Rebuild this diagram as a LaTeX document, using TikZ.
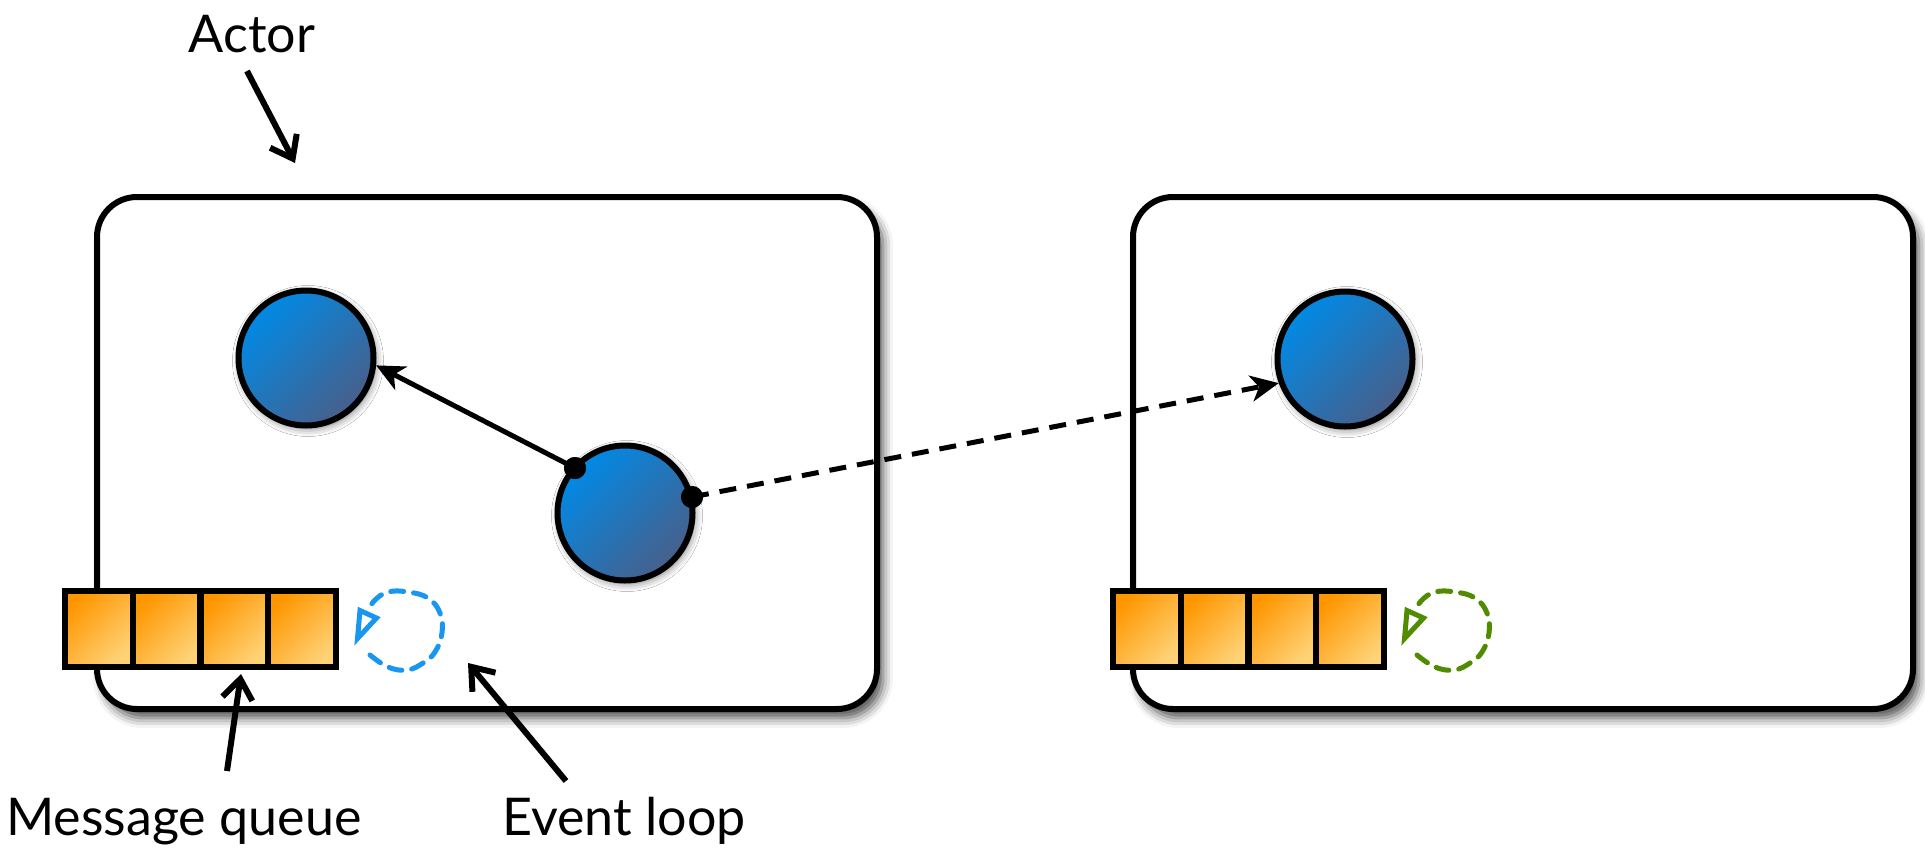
\documentclass[tikz,border=0pt]{standalone}
\usepackage{fontspec}
\setmainfont{Lato}
\usetikzlibrary{arrows.meta,shadows.blur}
\definecolor{ballA}{RGB}{0,138,230}
\definecolor{ballB}{RGB}{72,95,138}
\definecolor{qA}{RGB}{255,150,0}
\definecolor{qB}{RGB}{255,210,118}
\definecolor{loopblue}{RGB}{25,150,240}
\definecolor{loopgreen}{RGB}{80,140,0}
\begin{document}
\begin{tikzpicture}[x=1pt,y=-1pt,
  myshadow/.style={blur shadow={shadow xshift=6pt,shadow yshift=-9pt,shadow blur radius=10pt,shadow opacity=70}},
  actorbox/.style={draw=black,line width=6pt,rounded corners=40pt,fill=white,
    minimum width=780pt,minimum height=512pt,inner sep=0pt,myshadow},
  ball/.style={circle,draw=black,line width=6pt,minimum size=135pt,inner sep=0pt,
    top color=ballA,bottom color=ballB,shading angle=45,
    blur shadow={shadow xshift=2pt,shadow yshift=-3pt,shadow blur radius=8pt,shadow opacity=55}},
  qcell/.style={rectangle,draw=black,line width=6pt,minimum width=67.75pt,minimum height=76pt,
    inner sep=0pt,top color=qA,bottom color=qB,shading angle=45},
  dotnode/.style={circle,fill=black,minimum size=22pt,inner sep=0pt},
  ballarrow/.style={line width=5pt,-{Stealth[length=28pt,width=26pt,inset=8pt]}},
  labelarrow/.style={line width=6pt,-{Straight Barb[length=20pt,width=30pt]}},
  lbl/.style={font=\fontsize{52}{60}\selectfont,inner sep=0pt,anchor=base},
  loopline/.style={line width=5pt,dash pattern=on 13pt off 10pt,line cap=round},
  looptip/.style={line width=5pt,line join=miter}
]
\useasboundingbox (0,0) rectangle (1925,849);

% actor boxes
\node[actorbox] (actorA) at (487,453) {};
\node[actorbox] (actorB) at (1523,453) {};

% message queues
\foreach \i/\x in {1/98.9,2/166.6,3/234.4,4/302.1}{
  \node[qcell] (qa\i) at (\x,629) {};
}
\foreach \i/\x in {1/1146.9,2/1214.6,3/1282.4,4/1350.1}{
  \node[qcell] (qb\i) at (\x,629) {};
}

% event loops
\draw[loopline,loopblue] plot[smooth,tension=0.7] coordinates {(370,655) (388,667) (407,670) (423,663) (435,652) (442,633) (440,613) (428,598) (408,592) (388,592) (374,601) (368,612)};
\draw[looptip,loopblue] (357.5,638.5) -- (360,610.5) -- (376.5,618) -- cycle;

\begin{scope}[xshift=1047pt]
\draw[loopline,loopgreen] plot[smooth,tension=0.7] coordinates {(370,655) (388,667) (407,670) (423,663) (435,652) (442,633) (440,613) (428,598) (408,592) (388,592) (374,601) (368,612)};
\draw[looptip,loopgreen] (357.5,638.5) -- (360,610.5) -- (376.5,618) -- cycle;
\end{scope}

% balls
\node[ball] (c1) at (306,358) {};
\node[ball] (c2) at (625,513) {};
\node[ball] (c3) at (1345,359) {};

\node[dotnode] (dotA) at (575,468) {};
\node[dotnode] (dotB) at (692,497) {};

\draw[ballarrow] (dotA.center) -- (c1.-6);
\draw[ballarrow,dash pattern=on 17pt off 11pt] (dotB.center) -- (c3.200);
\node[dotnode] at (dotA) {};
\node[dotnode] at (dotB) {};

% labels
\node[lbl] (actorlbl) at (252,52) {Actor};
\node[lbl] (mqlbl) at (184,835) {Message queue};
\node[lbl] (ellbl) at (624,835) {Event loop};

\coordinate (actortail) at (247,71);
\coordinate (actortip) at (295,163);
\coordinate (mqtail) at (227,771);
\coordinate (mqtip) at (241,674);
\coordinate (eltail) at (566,781);
\coordinate (eltip) at (468,663);

\draw[labelarrow] (actortail) -- (actortip);
\draw[labelarrow] (mqtail) -- (mqtip);
\draw[labelarrow] (eltail) -- (eltip);
\end{tikzpicture}
\end{document}
